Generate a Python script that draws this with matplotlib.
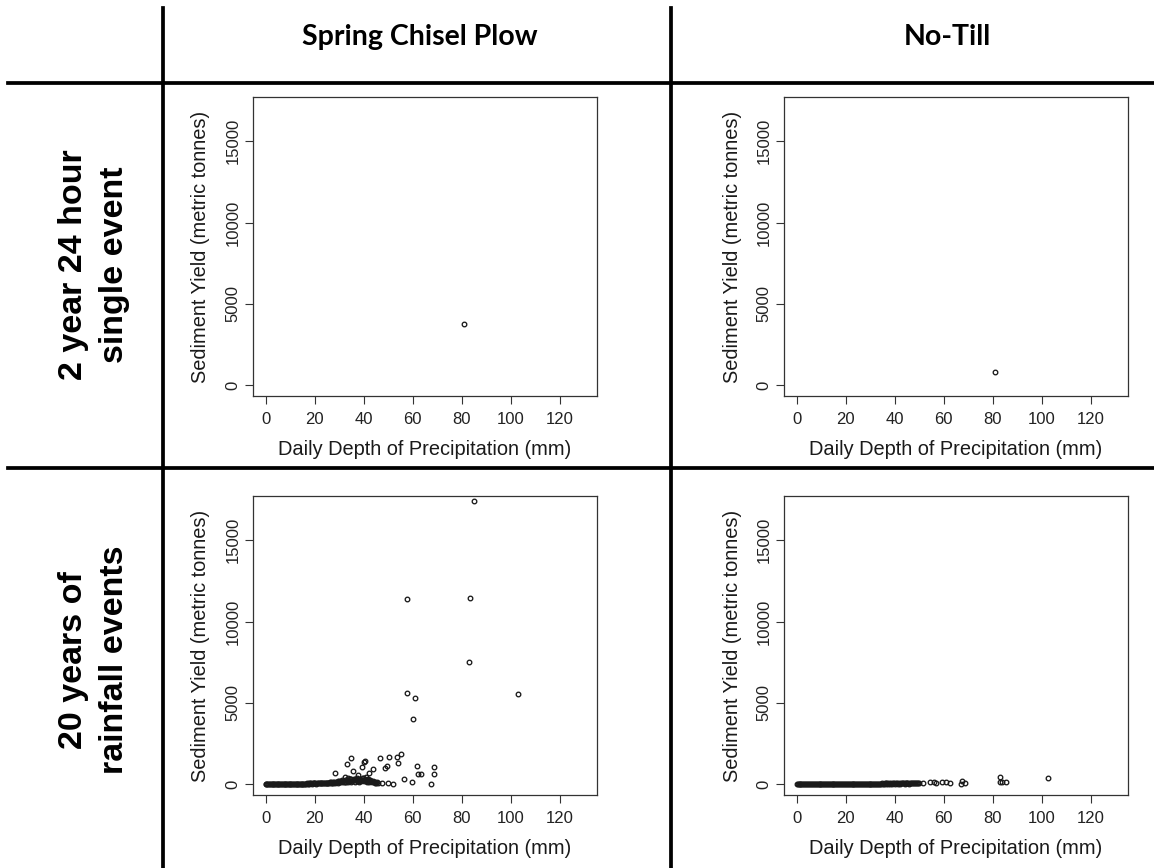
import matplotlib
matplotlib.use("Agg")
import matplotlib.pyplot as plt
from matplotlib.lines import Line2D

# ---------------- data ----------------
col_titles = ["Spring Chisel Plow", "No-Till"]
row_titles = ["2 year 24 hour\nsingle event", "20 years of\nrainfall events"]
x_label = "Daily Depth of Precipitation (mm)"
y_label = "Sediment Yield (metric tonnes)"
x_ticks = [0, 20, 40, 60, 80, 100, 120]
y_ticks = [0, 5000, 10000, 15000]

# single design-storm event
chisel_single_x = [81.0]
chisel_single_y = [3750]
notill_single_x = [81.0]
notill_single_y = [800]

# 20 years, spring chisel plow: dense band of small events
chisel_band_x = [0.0, 0.3, 0.7, 1.0, 1.4, 1.7, 2.1, 2.4, 2.8, 3.1,
                 3.5, 3.8, 4.2, 4.5, 4.9, 5.2, 5.6, 5.9, 6.3, 6.6,
                 7.0, 7.3, 7.7, 8.0, 8.4, 8.7, 9.1, 9.4, 9.8, 10.1,
                 10.5, 10.8, 11.2, 11.5, 11.9, 12.2, 12.6, 12.9, 13.3, 13.6,
                 14.0, 14.3, 14.7, 15.0, 15.4, 15.7, 16.1, 16.4, 16.8, 17.1,
                 17.5, 17.8, 18.2, 18.5, 18.9, 19.2, 19.6, 19.9, 20.3, 20.6,
                 21.0, 21.3, 21.7, 22.0, 22.4, 22.7, 23.1, 23.4, 23.8, 24.1,
                 24.5, 24.8, 25.2, 25.5, 25.9, 26.2, 26.6, 26.9, 27.3, 27.6,
                 28.0, 28.3, 28.7, 29.0, 29.4, 29.7, 30.1, 30.4, 30.8, 31.1,
                 31.5, 31.8, 32.2, 32.5, 32.9, 33.2, 33.6, 33.9, 34.3, 34.6,
                 35.0, 35.3, 35.7, 36.0, 36.4, 36.7, 37.1, 37.4, 37.8, 38.1,
                 38.5, 38.8, 39.2, 39.5, 39.9, 40.2, 40.6, 40.9, 41.3, 41.6,
                 42.0, 42.3, 42.7, 43.0, 43.4, 43.7, 44.1, 44.4, 44.8, 45.3]
chisel_band_y = [0, 2, 1, 0, 3, 1, 2, 0, 4, 2,
                 1, 5, 3, 2, 6, 3, 4, 7, 5, 3,
                 8, 4, 6, 9, 5, 10, 7, 12, 8, 11,
                 14, 9, 12, 16, 10, 18, 13, 15, 20, 12,
                 22, 16, 19, 25, 18, 28, 21, 24, 30, 20,
                 33, 26, 29, 36, 24, 40, 31, 35, 44, 28,
                 48, 36, 42, 55, 38, 60, 45, 52, 68, 40,
                 75, 50, 62, 85, 55, 95, 66, 80, 110, 60,
                 120, 75, 95, 140, 85, 160, 100, 130, 180, 90,
                 200, 110, 150, 230, 120, 260, 140, 190, 300, 130,
                 280, 160, 220, 320, 150, 250, 180, 340, 210, 140,
                 300, 190, 260, 360, 170, 240, 330, 200, 150, 280,
                 220, 130, 260, 180, 110, 200, 90, 150, 70, 120]
# 20 years, spring chisel plow: larger, scattered events
chisel_scatter_x = [28.2, 32.3, 33.0, 33.7, 35.0, 35.7, 37.7, 39.1, 40.0, 40.5,
                    41.1, 42.2, 43.9, 44.5, 46.0, 46.6, 47.5, 48.6, 49.3, 50.0,
                    50.4, 51.8, 53.7, 54.1, 55.2, 56.5, 59.8, 61.6, 62.3, 63.2,
                    67.3, 68.7, 68.7, 57.5, 60.9, 60.2, 57.5, 83.3, 83.0, 84.9,
                    102.8, 36.5, 38.0, 39.5, 41.8, 34.5, 31.0, 29.5, 26.5]
chisel_scatter_y = [697, 451, 1230, 390, 1578, 820, 553, 1066, 1373, 1435,
                    451, 656, 902, 60, 80, 1578, 50, 964, 1128, 70,
                    1640, 0, 1640, 1271, 1825, 308, 103, 1128, 615, 636,
                    0, 1025, 595, 5575, 5267, 3973, 11407, 11450, 7526, 17443,
                    5513, 300, 250, 350, 200, 280, 220, 180, 120]

# 20 years, no-till: dense band of small events
notill_band_x = [0.0, 0.4, 0.8, 1.2, 1.5, 1.9, 2.3, 2.7, 3.1, 3.5,
                 3.9, 4.2, 4.6, 5.0, 5.4, 5.8, 6.2, 6.6, 6.9, 7.3,
                 7.7, 8.1, 8.5, 8.9, 9.3, 9.6, 10.0, 10.4, 10.8, 11.2,
                 11.6, 12.0, 12.3, 12.7, 13.1, 13.5, 13.9, 14.3, 14.7, 15.0,
                 15.4, 15.8, 16.2, 16.6, 17.0, 17.4, 17.7, 18.1, 18.5, 18.9,
                 19.3, 19.7, 20.1, 20.4, 20.8, 21.2, 21.6, 22.0, 22.4, 22.8,
                 23.1, 23.5, 23.9, 24.3, 24.7, 25.1, 25.5, 25.8, 26.2, 26.6,
                 27.0, 27.4, 27.8, 28.2, 28.5, 28.9, 29.3, 29.7, 30.1, 30.5,
                 30.9, 31.2, 31.6, 32.0, 32.4, 32.8, 33.2, 33.6, 33.9, 34.3,
                 34.7, 35.1, 35.5, 35.9, 36.3, 36.6, 37.0, 37.4, 37.8, 38.2,
                 38.6, 39.0, 39.3, 39.7, 40.1, 40.5, 40.9, 41.3, 41.7, 42.0,
                 42.4, 42.8, 43.2, 43.6, 44.0, 44.4, 44.7, 45.1, 45.5, 45.9,
                 46.3, 46.7, 47.1, 47.4, 47.8, 48.2, 48.6, 49.0, 49.4, 49.8]
notill_band_y = [0, 1, 0, 0, 1, 0, 2, 1, 0, 1,
                 2, 0, 1, 3, 1, 2, 0, 3, 2, 1,
                 3, 2, 4, 1, 3, 5, 2, 4, 3, 6,
                 4, 2, 5, 7, 3, 6, 4, 8, 5, 3,
                 7, 9, 5, 8, 6, 10, 4, 9, 7, 11,
                 8, 12, 6, 10, 13, 9, 7, 14, 11, 8,
                 15, 10, 13, 17, 9, 14, 18, 12, 16, 10,
                 19, 13, 17, 21, 11, 18, 22, 15, 20, 12,
                 24, 16, 21, 26, 14, 23, 28, 18, 25, 15,
                 30, 20, 26, 33, 17, 29, 35, 22, 31, 19,
                 38, 24, 33, 41, 21, 36, 44, 27, 39, 23,
                 47, 30, 42, 52, 26, 45, 55, 33, 49, 28,
                 58, 36, 52, 64, 31, 55, 68, 40, 60, 35]
# 20 years, no-till: larger, scattered events
notill_scatter_x = [51.5, 54.2, 55.9, 57.0, 59.4, 60.8, 62.7, 67.2, 67.6, 68.6,
                    82.8, 83.1, 83.9, 85.6, 102.6]
notill_scatter_y = [40, 100, 140, 40, 100, 140, 40, 0, 185, 82,
                    410, 140, 100, 100, 350]

# ---------------- figure ----------------
W, H = 1154, 868
fig = plt.figure(figsize=(W / 100, H / 100), dpi=100)
fig.patch.set_facecolor("white")


def fx(px):
    return px / W


def fy(py):
    return 1 - py / H


# table grid lines
lw_grid = 2.7
for x0 in (163, 671):
    fig.add_artist(Line2D([fx(x0), fx(x0)], [fy(8), fy(868)], color="black",
                          lw=lw_grid, transform=fig.transFigure))
for y0 in (83, 468):
    fig.add_artist(Line2D([fx(8), fx(1154)], [fy(y0), fy(y0)], color="black",
                          lw=lw_grid, transform=fig.transFigure))

# column headers
for cx, t in zip([420, 947], col_titles):
    fig.text(fx(cx), fy(37), t, ha="center", va="center", fontsize=20.5,
             fontweight="bold", family="Lato")

# row headers
for cy, t in zip([265, 660], row_titles):
    fig.text(fx(94), fy(cy), t, ha="center", va="center", fontsize=24.5,
             fontweight="bold", family="Liberation Sans", rotation=90,
             linespacing=1.45, multialignment="center")

panels = [
    ((253, 97), chisel_single_x, chisel_single_y),
    ((784, 97), notill_single_x, notill_single_y),
    ((253, 496), chisel_band_x + chisel_scatter_x, chisel_band_y + chisel_scatter_y),
    ((784, 496), notill_band_x + notill_scatter_x, notill_band_y + notill_scatter_y),
]
bw, bh = 344, 299
for (l, t), xs, ys in panels:
    ax = fig.add_axes([fx(l), fy(t + bh), bw / W, bh / H])
    ax.plot(xs, ys, linestyle="none", marker="o", ms=3.3, mfc="none",
            mec="#1a1a1a", mew=0.95)
    ax.set_xlim(-5.2, 135.2)
    ax.set_ylim(-680, 17730)
    ax.set_xticks(x_ticks)
    ax.set_yticks(y_ticks)
    ax.set_xticklabels([str(v) for v in x_ticks], family="Liberation Sans",
                       fontsize=12, color="#222222")
    ax.set_yticklabels([str(v) for v in y_ticks], family="Liberation Sans",
                       fontsize=12, rotation=90, va="center", color="#222222")
    ax.tick_params(axis="x", direction="out", length=5.8, width=0.8,
                   color="#333333", pad=6)
    ax.tick_params(axis="y", direction="out", length=5.8, width=0.8,
                   color="#333333", pad=3)
    for s in ax.spines.values():
        s.set_linewidth(0.9)
        s.set_color("#333333")
    ax.set_xlabel(x_label, family="Liberation Sans", fontsize=14.4,
                  labelpad=9, color="#1a1a1a")
    ax.set_ylabel(y_label, family="Liberation Sans", fontsize=14.4,
                  labelpad=11, color="#1a1a1a")

fig.savefig("out.png", dpi=100, facecolor="white")
